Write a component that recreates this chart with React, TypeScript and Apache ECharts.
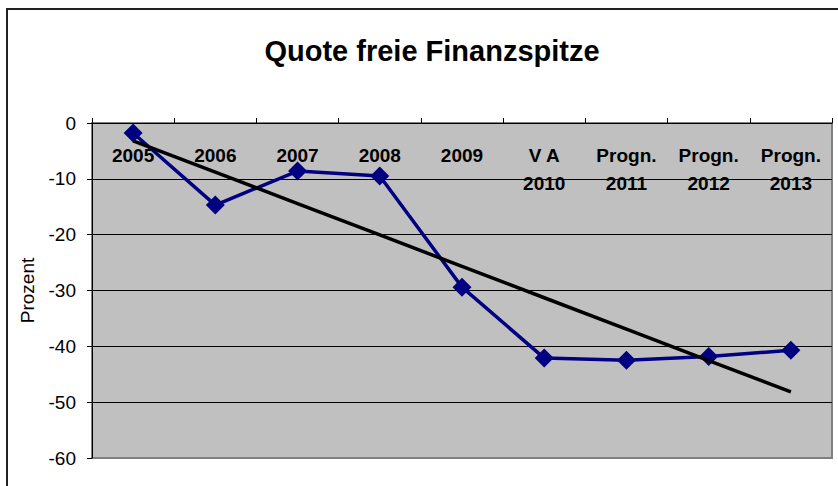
import React, { useEffect, useRef } from "react";
import * as echarts from "echarts";

const categories = ["2005", "2006", "2007", "2008", "2009", "V A\n2010", "Progn.\n2011", "Progn.\n2012", "Progn.\n2013"];
const quoteValues = [-1.8, -14.7, -8.6, -9.5, -29.4, -42.1, -42.5, -41.8, -40.7];
const yTicks = { min: -60, max: 0, interval: 10 };

// Linear trend line (least squares), as Excel's trend line
function linearTrend(values: number[]): number[] {
  const n = values.length;
  const mx = (n - 1) / 2;
  const my = values.reduce((a, b) => a + b, 0) / n;
  let num = 0;
  let den = 0;
  values.forEach((v, i) => {
    num += (i - mx) * (v - my);
    den += (i - mx) * (i - mx);
  });
  const slope = num / den;
  return values.map((_, i) => my + slope * (i - mx));
}

const FONT = "'Liberation Sans', Arial, sans-serif";

export default function App() {
  const ref = useRef<HTMLDivElement>(null);
  useEffect(() => {
    if (!ref.current) return;
    const chart = echarts.init(ref.current, undefined, { renderer: "svg" });
    const trend = linearTrend(quoteValues);
    chart.setOption({
      animation: false,
      backgroundColor: "#ffffff",
      title: {
        text: "Quote freie Finanzspitze",
        left: 427,
        top: 31,
        textAlign: "center",
        textStyle: { fontFamily: FONT, fontWeight: "bold", fontSize: 29, color: "#000" },
      },
      graphic: [
        {
          type: "rect",
          shape: { x: 7, y: 9, width: 850, height: 500 },
          style: { fill: "none", stroke: "#222", lineWidth: 2 },
          silent: true,
          z: 100,
        },
      ],
      grid: {
        left: 92,
        right: 6,
        top: 123,
        bottom: 28,
        show: true,
        backgroundColor: "#c0c0c0",
        borderColor: "#808080",
        borderWidth: 2,
      },
      xAxis: {
        type: "category",
        data: categories,
        position: "top",
        boundaryGap: true,
        axisLine: { onZero: false, lineStyle: { color: "#000", width: 1 } },
        axisTick: { show: true, length: 5, lineStyle: { color: "#000" } },
        axisLabel: {
          inside: true,
          margin: 18,
          interval: 0,
          fontFamily: FONT,
          fontWeight: "bold",
          fontSize: 19,
          lineHeight: 28,
          color: "#000",
          verticalAlign: "top",
        },
        splitLine: { show: false },
      },
      yAxis: {
        type: "value",
        min: yTicks.min,
        max: yTicks.max,
        interval: yTicks.interval,
        name: "Prozent",
        nameLocation: "middle",
        nameRotate: 90,
        nameGap: 55,
        nameTextStyle: { fontFamily: FONT, fontSize: 19, color: "#000" },
        axisLine: { show: true, lineStyle: { color: "#000", width: 1 } },
        axisTick: { show: true, length: 5, lineStyle: { color: "#000" } },
        axisLabel: { fontFamily: FONT, fontSize: 19, color: "#000", margin: 16 },
        splitLine: {
          show: true,
          lineStyle: { color: ["#808080", "#000", "#000", "#000", "#000", "#000", "#000"], width: 1 },
        },
      },
      series: [
        {
          name: "Quote",
          type: "line",
          data: quoteValues,
          lineStyle: { color: "#000080", width: 3.5 },
          itemStyle: { color: "#000080" },
          symbol: "diamond",
          symbolSize: 19,
          z: 3,
        },
        {
          name: "Trend",
          type: "line",
          data: trend,
          lineStyle: { color: "#000", width: 3.5 },
          symbol: "none",
          z: 4,
        },
      ],
    });
    return () => chart.dispose();
  }, []);
  return <div ref={ref} style={{ position: "fixed", left: 0, top: 0, width: 838, height: 486 }} />;
}
